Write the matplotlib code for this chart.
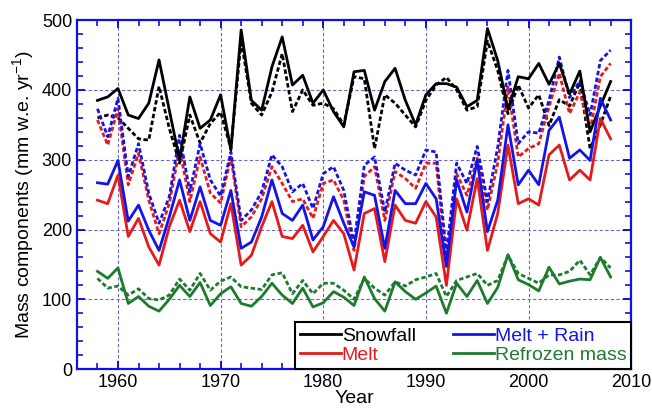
import numpy as np
import matplotlib
matplotlib.use("Agg")
import matplotlib.pyplot as plt
from matplotlib.ticker import MultipleLocator

plt.rcParams['font.family'] = ['Liberation Sans', 'DejaVu Sans']
plt.rcParams['mathtext.default'] = 'regular'

years = np.arange(1958, 2009)

# solid lines
snowfall = [385, 390, 402, 364, 359, 381, 443, 371, 300, 390, 345, 357, 393,
            314, 486, 385, 371, 433, 476, 407, 421, 381, 400, 369, 347, 426,
            428, 371, 412, 431, 385, 350, 393, 409, 409, 404, 376, 385, 488,
            442, 372, 419, 416, 438, 408, 438, 394, 427, 340, 377, 412]
melt = [242, 237, 278, 190, 216, 175, 149, 204, 242, 197, 240, 194, 182,
        237, 149, 163, 204, 240, 190, 187, 206, 168, 190, 213, 194, 142,
        223, 230, 154, 235, 213, 209, 240, 218, 120, 244, 199, 273, 170,
        223, 321, 237, 244, 235, 307, 321, 271, 285, 271, 359, 330]
melt_rain = [267, 265, 299, 212, 235, 199, 170, 218, 271, 213, 261, 213, 206,
             256, 173, 182, 218, 271, 223, 213, 235, 185, 204, 247, 209, 175,
             254, 249, 173, 256, 237, 237, 266, 244, 147, 271, 225, 299, 197,
             242, 350, 264, 285, 264, 342, 361, 302, 314, 299, 388, 357]
refrozen = [140, 130, 145, 94, 104, 90, 83, 100, 120, 104, 124, 91, 108,
            118, 94, 90, 104, 123, 106, 94, 116, 89, 95, 111, 103, 91,
            132, 101, 83, 125, 111, 100, 109, 119, 80, 123, 104, 127, 94,
            117, 164, 128, 121, 112, 146, 122, 126, 129, 128, 160, 132]

# dotted lines
snowfall_d = [360, 364, 360, 345, 330, 328, 405, 345, 295, 364, 324, 352, 368,
              316, 471, 381, 364, 397, 452, 369, 400, 378, 381, 373, 350, 419,
              416, 316, 393, 381, 364, 347, 385, 407, 418, 400, 371, 376, 470,
              428, 366, 407, 374, 393, 349, 386, 377, 411, 316, 350, 391]
melt_d = [357, 321, 373, 264, 309, 242, 194, 237, 316, 240, 304, 252, 238,
          304, 204, 218, 244, 290, 266, 240, 244, 216, 266, 271, 242, 170,
          276, 290, 213, 283, 273, 259, 295, 295, 151, 280, 249, 302, 228,
          295, 404, 304, 316, 323, 376, 424, 366, 397, 342, 419, 438]
melt_rain_d = [373, 333, 388, 276, 323, 252, 209, 247, 335, 254, 323, 271, 248,
               311, 213, 228, 254, 307, 290, 254, 266, 230, 280, 290, 256, 180,
               292, 304, 225, 295, 285, 278, 314, 311, 166, 295, 266, 319, 240,
               318, 428, 323, 340, 338, 385, 447, 389, 413, 364, 442, 457]
refrozen_d = [130, 116, 119, 106, 115, 101, 99, 106, 129, 113, 137, 113, 126,
              132, 118, 116, 114, 135, 138, 108, 127, 108, 123, 123, 113, 100,
              130, 116, 106, 125, 119, 128, 132, 137, 104, 127, 132, 137, 120,
              127, 163, 137, 130, 123, 135, 135, 140, 156, 135, 160, 145]

black = 'black'
red = '#e41a1c'
blue = '#1414e6'
green = '#1e7b2e'

fig = plt.figure(figsize=(6.52, 4.11), dpi=100)
ax = fig.add_axes([0.118, 0.102, 0.850, 0.849])

lw = 2.0
dash = (0, (1.6, 0.9))
ax.plot(years, snowfall_d, color=black, lw=lw, linestyle=dash)
ax.plot(years, melt_d, color=red, lw=lw, linestyle=dash)
ax.plot(years, melt_rain_d, color=blue, lw=lw, linestyle=dash)
ax.plot(years, refrozen_d, color=green, lw=lw, linestyle=dash)

l1, = ax.plot(years, snowfall, color=black, lw=lw, label='Snowfall')
l2, = ax.plot(years, melt, color=red, lw=lw, label='Melt')
l3, = ax.plot(years, melt_rain, color=blue, lw=lw, label='Melt + Rain')
l4, = ax.plot(years, refrozen, color=green, lw=lw, label='Refrozen mass')

ax.set_xlim(1956, 2010)
ax.set_ylim(0, 500)
ax.xaxis.set_major_locator(MultipleLocator(10))
ax.xaxis.set_minor_locator(MultipleLocator(2))
ax.yaxis.set_major_locator(MultipleLocator(100))
ax.yaxis.set_minor_locator(MultipleLocator(20))

ax.grid(True, which='major', color='#6a6ab8', linestyle=(0, (3, 2)), lw=0.8)
for s in ax.spines.values():
    s.set_color('#1010e0')
    s.set_linewidth(1.6)
ax.tick_params(which='both', direction='in', top=True, right=True,
               color='#1010e0', labelsize=13, labelcolor='black')
ax.tick_params(which='major', length=6, width=1.4)
ax.tick_params(which='minor', length=4, width=1.2)

ax.set_xlabel('Year', fontsize=14, labelpad=-1)
ax.set_ylabel('Mass components (mm w.e. yr$^{-1}$)', fontsize=14, labelpad=4)

leg = ax.legend(handles=[l1, l2, l3, l4], ncol=2, loc='lower right',
                fontsize=14, frameon=True, fancybox=False, borderaxespad=0,
                handlelength=2.1, handletextpad=0.05, columnspacing=1.9,
                labelspacing=0.1, borderpad=0.25)
leg.get_frame().set_edgecolor('black')
leg.get_frame().set_linewidth(1.5)
leg.get_frame().set_alpha(1)
for txt, c in zip(leg.get_texts(), [black, red, blue, green]):
    txt.set_color(c)

fig.savefig('out.png', dpi=100)
